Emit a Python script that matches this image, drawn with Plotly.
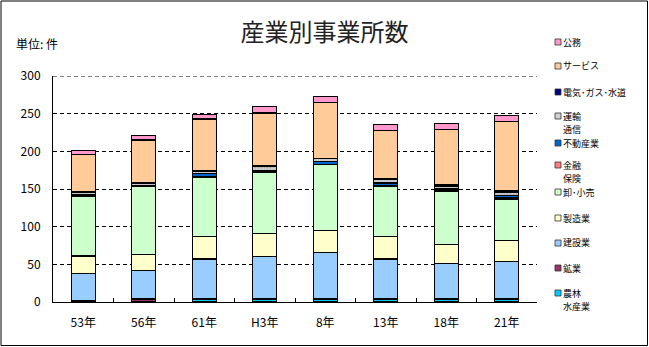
import plotly.graph_objects as go

# 調査年
years = ["53年", "56年", "61年", "H3年", "8年", "13年", "18年", "21年"]

# 産業別の事業所数（件）: 積み上げの下から順
agri = [1, 1, 3, 3, 3, 3, 3, 4]            # 農林水産業
mining = [1, 3, 2, 1, 1, 1, 1, 1]          # 鉱業
construction = [36, 38, 52, 56, 62, 53, 47, 49]   # 建設業
manufacturing = [23, 21, 30, 31, 29, 30, 25, 28]  # 製造業
retail = [79, 90, 79, 81, 87, 67, 71, 54]  # 卸･小売
finance = [1, 1, 1, 1, 1, 1, 1, 2]         # 金融保険
realestate = [2, 1, 4, 2, 4, 3, 2, 3]      # 不動産業
transport = [2, 3, 3, 5, 3, 5, 4, 5]       # 運輸通信
utilities = [1, 1, 1, 1, 1, 1, 2, 2]       # 電気･ガス･水道
services = [50, 56, 68, 70, 74, 64, 73, 92]  # サービス
public = [5, 6, 6, 8, 8, 8, 8, 8]          # 公務

series_names = ["農林<br>水産業", "鉱業", "建設業", "製造業", "卸･小売", "金融<br>保険",
                "不動産業", "運輸<br>通信", "電気･ガス･水道", "サービス", "公務"]
series_values = [agri, mining, construction, manufacturing, retail, finance,
                 realestate, transport, utilities, services, public]
series_colors = ["#00CCFF", "#993366", "#99CCFF", "#FFFFCC", "#CCFFCC", "#FF8080",
                 "#0066CC", "#D0D0D0", "#000080", "#FFCC99", "#FF99CC"]

# 凡例の各項目の縦位置（px、1行目の中心）
legend_rows_px = [293, 268, 243, 218, 192, 165, 143, 116, 92, 66, 42]
LEGEND_LINE = 13  # 凡例の2行目までの行送り（px）

# y軸
y_max, y_step = 300, 50

W, H = 649, 347
ML, MR, MT, MB = 53, 112, 76, 45
PW, PH = W - ML - MR, H - MT - MB
FONT = "Noto Sans CJK JP"


def px_x(px):
    return (px - ML) / PW


def px_y(py):
    return (H - MB - py) / PH


fig = go.Figure()
for name, vals, col in zip(series_names, series_values, series_colors):
    marker = dict(color=col, line=dict(color="black", width=1.2))
    if name.startswith("運輸"):
        marker["pattern"] = dict(shape=".", fgcolor="#808080", bgcolor=col,
                                 size=3, solidity=0.35)
    fig.add_trace(go.Bar(x=years, y=vals, name=name.replace("<br>", ""),
                         marker=marker, showlegend=False))

shapes = []
annotations = []

# 凡例（見本の四角と名称）
for name, col, py in zip(series_names, series_colors, legend_rows_px):
    shapes.append(dict(type="rect", xref="paper", yref="paper",
                       x0=px_x(555), x1=px_x(561), y0=px_y(py + 3), y1=px_y(py - 3),
                       fillcolor=col, line=dict(color="#333333", width=0.8)))
    for i, line in enumerate(name.split("<br>")):
        annotations.append(dict(xref="paper", yref="paper", x=px_x(562),
                                y=px_y(py + i * LEGEND_LINE),
                                xanchor="left", yanchor="middle", align="left",
                                text=line, showarrow=False, borderpad=0,
                                font=dict(family=FONT, size=9, color="black")))

# 単位
annotations.append(dict(xref="paper", yref="paper", x=px_x(14), y=px_y(43),
                        xanchor="left", yanchor="middle", text="単位: 件",
                        showarrow=False, font=dict(family=FONT, size=12, color="black")))

# 最上段（300）の目盛線
shapes.append(dict(type="line", xref="paper", yref="y", x0=0, x1=1, y0=y_max, y1=y_max,
                   line=dict(color="black", width=1, dash="4px,3px")))

# 外枠
shapes.append(dict(type="rect", xref="paper", yref="paper",
                   x0=px_x(1), x1=px_x(647.5), y0=px_y(345.5), y1=px_y(1),
                   line=dict(color="black", width=1), fillcolor="rgba(0,0,0,0)"))

fig.update_layout(
    width=W, height=H,
    margin=dict(l=ML, r=MR, t=MT, b=MB, pad=0),
    paper_bgcolor="white", plot_bgcolor="white",
    barmode="stack", bargap=0.6,
    title=dict(text="産業別事業所数", x=0.5, xref="container", xanchor="center",
               y=1 - 33 / H, yref="container", yanchor="middle",
               font=dict(family=FONT, size=24, color="#222222")),
    font=dict(family=FONT, size=12, color="black"),
    shapes=shapes,
    annotations=annotations,
)
fig.update_xaxes(showline=True, linecolor="black", linewidth=1,
                 ticks="inside", ticklen=4, tickcolor="black", tickson="boundaries",
                 showgrid=False, ticklabelstandoff=10,
                 tickfont=dict(family=FONT, size=12, color="black"))
fig.update_yaxes(range=[0, y_max], dtick=y_step, showline=True, linecolor="black", linewidth=1,
                 ticks="inside", ticklen=4, tickcolor="black",
                 showgrid=True, gridcolor="black", gridwidth=1, griddash="4px,3px",
                 zeroline=False, ticklabelstandoff=9,
                 tickfont=dict(family=FONT, size=12, color="black"))

fig.write_html("out.html")
